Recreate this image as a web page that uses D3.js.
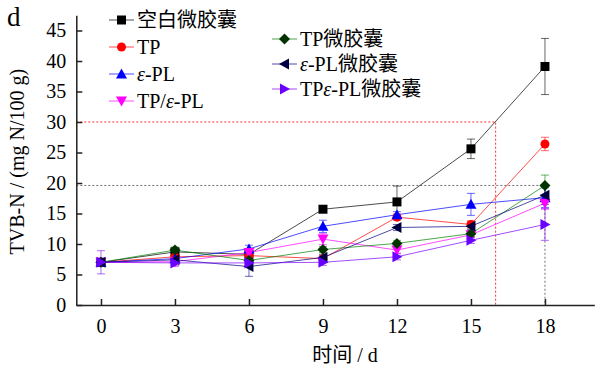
<!DOCTYPE html>
<html>
<head>
<meta charset="utf-8">
<script src="https://cdn.jsdelivr.net/npm/d3@7"></script>
<style>
  body { margin: 0; background: #fff; }
  text { font-family: "Liberation Serif", "Noto Sans CJK SC", serif; }
</style>
</head>
<body>
<div id="the_chart"></div>
<script>
var days = [0, 3, 6, 9, 12, 15, 18];
var xTicks = [0, 3, 6, 9, 12, 15, 18];
var yTicks = [0, 5, 10, 15, 20, 25, 30, 35, 40, 45];

var names = ["空白微胶囊", "TP", "ε-PL", "TP/ε-PL", "TP微胶囊", "ε-PL微胶囊", "TPε-PL微胶囊"];
var blank  = [7.0, 8.7, 8.3, 15.7, 16.9, 25.6, 39.1];
var tp     = [7.0, 7.9, 8.1, 7.6, 14.4, 13.2, 26.4];
var epl    = [7.0, 7.6, 9.2, 12.9, 14.8, 16.5, 17.6];
var tpEpl  = [7.0, 7.1, 8.6, 10.8, 9.0, 11.5, 16.7];
var tpMc   = [7.0, 9.0, 7.3, 9.1, 10.1, 11.7, 19.6];
var eplMc  = [7.0, 7.4, 6.3, 7.8, 12.7, 12.9, 18.0];
var tpEplMc = [7.0, 6.9, 6.9, 7.0, 7.9, 10.6, 13.2];

var errBlank  = [0.3, 0.6, 0.5, 0.5, 2.6, 1.6, 4.6];
var errTp     = [0.3, 0.5, 0.5, 0.5, 0.5, 0.6, 1.1];
var errEpl    = [0.3, 0.5, 0.6, 1.0, 0.5, 1.8, 1.6];
var errTpEpl  = [0.3, 0.7, 0.5, 0.9, 0.5, 0.5, 1.0];
var errTpMc   = [0.3, 0.5, 0.5, 0.5, 0.5, 0.5, 1.7];
var errEplMc  = [0.3, 0.5, 1.6, 0.5, 0.5, 0.5, 1.5];
var errTpEplMc = [1.9, 0.5, 0.5, 0.5, 0.5, 0.5, 2.6];

var lineColors   = ["#000000", "#ff0000", "#0000ff", "#ff00ff", "#008000", "#000080", "#8000ff"];
var markerColors = ["#000000", "#ff0000", "#0000ff", "#ff00ff", "#003300", "#000040", "#6a00ff"];
var shapes = ["square", "circle", "up", "down", "diamond", "left", "right"];

var refRed = {x: 16, y: 30};
var refGray = {x: 18, y: 19.6};

var values = [blank, tp, epl, tpEpl, tpMc, eplMc, tpEplMc];
var errors = [errBlank, errTp, errEpl, errTpEpl, errTpMc, errEplMc, errTpEplMc];

var w = 595, h = 372;
var svg = d3.select("#the_chart").append("svg")
  .attr("width", w).attr("height", h);

var xscale = d3.scaleLinear().domain([-1, 20]).range([76.3, 594.3]);
var yscale = d3.scaleLinear().domain([0, 47.5]).range([305, 15.25]);

// reference lines
function refLines(r, color) {
  svg.append("path")
    .attr("d", "M" + xscale(-1) + "," + yscale(r.y) + "H" + xscale(r.x) + "V" + yscale(0))
    .attr("fill", "none")
    .attr("stroke", color)
    .attr("stroke-width", 1)
    .attr("stroke-dasharray", "2,2");
}
refLines(refRed, "#ff3030");
refLines(refGray, "#707070");

// axes
var xAxis = d3.axisBottom(xscale).tickValues(xTicks).tickSizeInner(-6).tickSizeOuter(0).tickPadding(14);
var yAxis = d3.axisLeft(yscale).tickValues(yTicks).tickSizeInner(-6).tickSizeOuter(0).tickPadding(10);

var gX = svg.append("g").attr("transform", "translate(0," + yscale(0) + ")").call(xAxis);
var gY = svg.append("g").attr("transform", "translate(" + xscale(-1) + ",0)").call(yAxis);
[gX, gY].forEach(function(g) {
  g.selectAll("path, line").attr("stroke", "#222").attr("stroke-width", 1.5);
  g.selectAll("text").attr("font-size", 20).attr("fill", "#000")
    .style("font-family", "'Liberation Serif', serif");
});

// symbols
function drawMarker(g, shape, color, cx, cy) {
  var s = 4.5;
  var p;
  if (shape === "circle") {
    g.append("circle").attr("cx", cx).attr("cy", cy).attr("r", s).attr("fill", color);
    return;
  }
  if (shape === "square") p = [[-s, -s], [s, -s], [s, s], [-s, s]];
  if (shape === "up") p = [[0, -s - 1], [s + 1, s], [-s - 1, s]];
  if (shape === "down") p = [[0, s + 1], [s + 1, -s], [-s - 1, -s]];
  if (shape === "diamond") p = [[0, -s - 1], [s + 1, 0], [0, s + 1], [-s - 1, 0]];
  if (shape === "left") p = [[-s - 1, 0], [s, -s - 1], [s, s + 1]];
  if (shape === "right") p = [[s + 1, 0], [-s, -s - 1], [-s, s + 1]];
  g.append("polygon")
    .attr("points", p.map(function(d) { return (cx + d[0]) + "," + (cy + d[1]); }).join(" "))
    .attr("fill", color);
}

var line = d3.line()
  .x(function(d) { return xscale(d.x); })
  .y(function(d) { return yscale(d.y); });

var plot = svg.append("g");
values.forEach(function(vals, k) {
  var pts = days.map(function(d, i) { return {x: d, y: vals[i], e: errors[k][i]}; });
  var g = plot.append("g");
  g.append("path").datum(pts).attr("d", line)
    .attr("fill", "none").attr("stroke", lineColors[k])
    .attr("stroke-width", 1).attr("stroke-opacity", 0.7);
  g.selectAll("path.err").data(pts).enter().append("path")
    .attr("class", "err")
    .attr("d", function(d) {
      var x = xscale(d.x), y1 = yscale(d.y + d.e), y2 = yscale(d.y - d.e);
      return "M" + x + "," + y1 + "V" + y2 + "M" + (x - 4) + "," + y1 + "H" + (x + 4) +
             "M" + (x - 4) + "," + y2 + "H" + (x + 4);
    })
    .attr("fill", "none").attr("stroke", lineColors[k])
    .attr("stroke-width", 1).attr("stroke-opacity", 0.6);
});
values.forEach(function(vals, k) {
  var g = plot.append("g");
  days.forEach(function(d, i) {
    drawMarker(g, shapes[k], markerColors[k], xscale(d), yscale(vals[i]));
  });
});

// legend
var legendPos = [[109, 20], [109, 47], [109, 74], [109, 101], [272, 39], [272, 64], [272, 89]];
names.forEach(function(name, k) {
  var x = legendPos[k][0], y = legendPos[k][1];
  var g = svg.append("g");
  g.append("line").attr("x1", x).attr("x2", x + 25).attr("y1", y).attr("y2", y)
    .attr("stroke", lineColors[k]).attr("stroke-width", 1).attr("stroke-opacity", 0.7);
  drawMarker(g, shapes[k], markerColors[k], x + 12.5, y);
  var t = g.append("text").attr("x", x + 28).attr("y", y + 7).attr("font-size", 20).attr("fill", "#000");
  name.split(/(ε)/).forEach(function(part) {
    if (!part) return;
    var ts = t.append("tspan").text(part);
    if (part === "ε") ts.attr("font-style", "italic");
  });
});

// axis titles
svg.append("text")
  .attr("transform", "translate(24," + yscale(23.5) + ") rotate(-90)")
  .attr("text-anchor", "middle")
  .attr("font-size", 20)
  .text("TVB-N / (mg N/100 g)");

svg.append("text")
  .attr("x", 345).attr("y", 362)
  .attr("text-anchor", "middle")
  .attr("font-size", 20)
  .text("时间 / d");

svg.append("text")
  .attr("x", 7).attr("y", 26)
  .attr("font-size", 27)
  .text("d");
</script>
</body>
</html>
